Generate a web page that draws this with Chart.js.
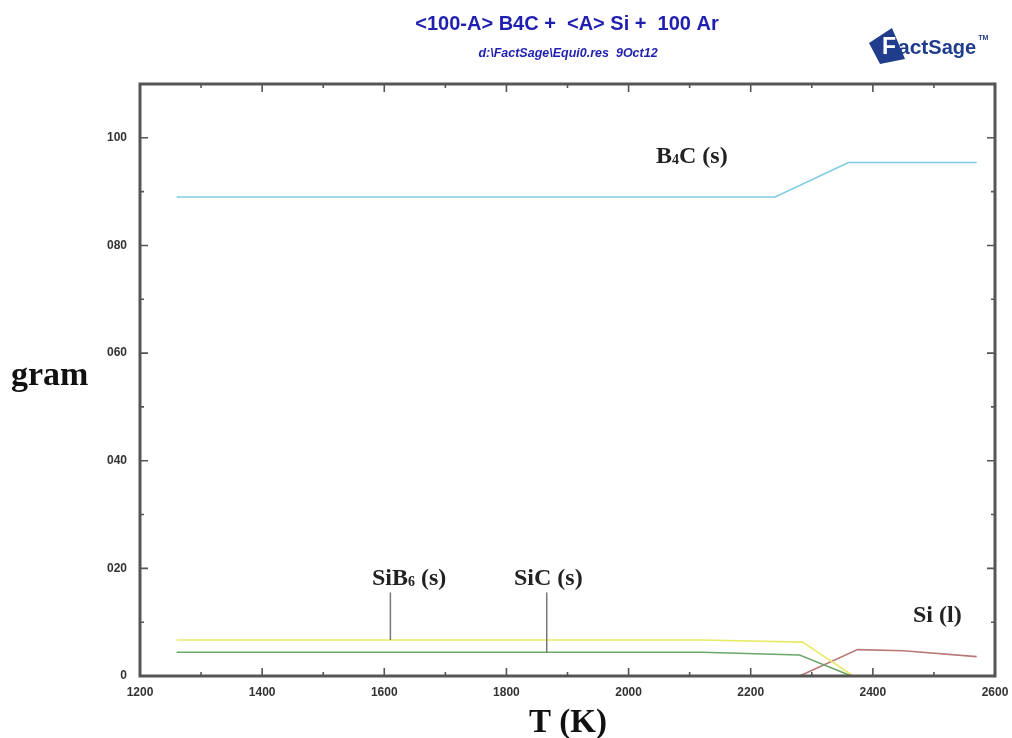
<!DOCTYPE html>
<html lang="en">
<head>
  <meta charset="UTF-8" />
  <title>B4C + Si + Ar equilibrium</title>
  <script src="https://cdn.jsdelivr.net/npm/chart.js"></script>
  <style>
    html, body { margin: 0; padding: 0; background: #fff; }
    #wrap { width: 1012px; height: 738px; }
  </style>
</head>
<body>
<div id="wrap"><canvas id="chart" width="1012" height="738"></canvas></div>
<script>
  // temperatures (K) and amounts (gram)
  const b4cT = [1260, 2240, 2360, 2570];
  const b4cG = [89.0, 89.0, 95.4, 95.4];

  const sib6T = [1260, 2120, 2285, 2368];
  const sib6G = [6.7, 6.7, 6.3, 0];

  const sicT = [1260, 2120, 2280, 2365];
  const sicG = [4.4, 4.4, 3.9, 0];

  const siT = [2280, 2375, 2450, 2570];
  const siG = [0, 4.9, 4.7, 3.6];

  const xTicks = [1200, 1400, 1600, 1800, 2000, 2200, 2400, 2600];
  const yTicks = { 0: '0', 20: '020', 40: '040', 60: '060', 80: '080', 100: '100' };

  const pts = (t, g) => t.map((x, i) => ({ x: x, y: g[i] }));

  // frame, inward ticks, labels and header text
  const decor = {
    id: 'decor',
    afterDatasetsDraw(chart) {
      const { ctx, chartArea: a, scales: { x, y } } = chart;
      ctx.save();
      ctx.strokeStyle = '#555';
      ctx.lineWidth = 1.6;
      for (let v = 1200; v <= 2600; v += 100) {
        const px = x.getPixelForValue(v);
        const len = v % 200 === 0 ? 8 : 4;
        ctx.beginPath();
        ctx.moveTo(px, a.bottom); ctx.lineTo(px, a.bottom - len);
        ctx.moveTo(px, a.top); ctx.lineTo(px, a.top + len);
        ctx.stroke();
      }
      for (let v = 0; v <= 110; v += 10) {
        const py = y.getPixelForValue(v);
        const len = v % 20 === 0 ? 8 : 4;
        ctx.beginPath();
        ctx.moveTo(a.left, py); ctx.lineTo(a.left + len, py);
        ctx.moveTo(a.right, py); ctx.lineTo(a.right - len, py);
        ctx.stroke();
      }
      ctx.lineWidth = 3;
      ctx.strokeRect(a.left, a.top, a.right - a.left, a.bottom - a.top);

      // leader lines
      ctx.strokeStyle = '#777';
      ctx.lineWidth = 1.5;
      ctx.beginPath();
      ctx.moveTo(x.getPixelForValue(1610), y.getPixelForValue(15.5));
      ctx.lineTo(x.getPixelForValue(1610), y.getPixelForValue(6.7));
      ctx.moveTo(x.getPixelForValue(1866), y.getPixelForValue(15.5));
      ctx.lineTo(x.getPixelForValue(1866), y.getPixelForValue(4.4));
      ctx.stroke();

      // phase labels
      ctx.fillStyle = '#222';
      ctx.textBaseline = 'alphabetic';
      const big = 'bold 24px "Liberation Serif", "DejaVu Serif", serif';
      const sub = 'bold 14px "Liberation Serif", "DejaVu Serif", serif';
      function chem(parts, px, py) {
        let cx = px;
        parts.forEach(p => {
          ctx.font = p[1] ? sub : big;
          ctx.fillText(p[0], cx, py + (p[1] ? 1 : 0));
          cx += ctx.measureText(p[0]).width;
        });
      }
      chem([['B', 0], ['4', 1], ['C (s)', 0]], 656, 163);
      chem([['SiB', 0], ['6', 1], [' (s)', 0]], 372, 585);
      chem([['SiC (s)', 0]], 514, 585);
      chem([['Si (l)', 0]], 913, 622);

      // axis titles
      ctx.font = 'bold 34px "Liberation Serif", "DejaVu Serif", serif';
      ctx.fillStyle = '#111';
      ctx.textAlign = 'left';
      ctx.fillText('gram', 11, 385);
      ctx.font = 'bold 33px "Liberation Serif", "DejaVu Serif", serif';
      ctx.textAlign = 'center';
      ctx.fillText('T (K)', 568, 732);

      // header
      ctx.fillStyle = '#1f1fb0';
      ctx.font = 'bold 20px "Liberation Sans", Arial, sans-serif';
      ctx.fillText('<100-A> B4C +  <A> Si +  100 Ar', 567, 30);
      ctx.font = 'italic bold 12.5px "Liberation Sans", Arial, sans-serif';
      ctx.fillText('d:\\FactSage\\Equi0.res  9Oct12', 568, 57);

      // FactSage logo
      ctx.fillStyle = '#1f3d8c';
      ctx.beginPath();
      ctx.moveTo(869, 43); ctx.lineTo(892, 28); ctx.lineTo(905, 59); ctx.lineTo(880, 64);
      ctx.closePath();
      ctx.fill();
      ctx.textAlign = 'left';
      ctx.fillStyle = '#fff';
      ctx.font = 'bold 23px "Liberation Sans", Arial, sans-serif';
      ctx.fillText('F', 882, 54);
      ctx.fillStyle = '#1f3d8c';
      ctx.font = 'bold 21px "Liberation Sans", Arial, sans-serif';
      ctx.fillText('act', 898, 54);
      const w = ctx.measureText('act').width;
      ctx.font = 'bold 20px "Liberation Sans", Arial, sans-serif';
      ctx.fillText('Sage', 898 + w, 54);
      const w2 = ctx.measureText('Sage').width;
      ctx.font = 'bold 7px "Liberation Sans", Arial, sans-serif';
      ctx.fillText('TM', 900 + w + w2, 40);
      ctx.restore();
    }
  };

  new Chart(document.getElementById('chart'), {
    type: 'line',
    data: {
      datasets: [
        { label: 'B4C (s)', data: pts(b4cT, b4cG), borderColor: '#7fcbe4' },
        { label: 'SiB6 (s)', data: pts(sib6T, sib6G), borderColor: '#eaea66' },
        { label: 'SiC (s)', data: pts(sicT, sicG), borderColor: '#6aa86a' },
        { label: 'Si (l)', data: pts(siT, siG), borderColor: '#b87878' }
      ].map(d => Object.assign(d, { borderWidth: 1.6, pointRadius: 0, tension: 0, fill: false }))
    },
    options: {
      responsive: false,
      animation: false,
      layout: { padding: { left: 0, top: 84, right: 17, bottom: 22 } },
      plugins: { legend: { display: false }, tooltip: { enabled: false }, title: { display: false } },
      scales: {
        x: {
          type: 'linear', min: 1200, max: 2600,
          grid: { display: false, drawTicks: false },
          border: { display: false },
          afterBuildTicks: s => { s.ticks = xTicks.map(v => ({ value: v })); },
          afterFit: s => { s.height = 40; s.paddingRight = 0; s.paddingLeft = 0; },
          ticks: {
            padding: 9, maxRotation: 0, autoSkip: false, color: '#333',
            font: { family: '"Liberation Sans", Arial, sans-serif', size: 12, weight: 'bold' },
            callback: v => String(v)
          }
        },
        y: {
          min: 0, max: 110,
          grid: { display: false, drawTicks: false },
          border: { display: false },
          afterBuildTicks: s => { s.ticks = Object.keys(yTicks).map(v => ({ value: +v })); },
          afterFit: s => { s.width = 140; },
          ticks: {
            padding: 13, autoSkip: false, color: '#333',
            font: { family: '"Liberation Sans", Arial, sans-serif', size: 12, weight: 'bold' },
            callback: v => yTicks[v]
          }
        }
      }
    },
    plugins: [decor]
  });
</script>
</body>
</html>
